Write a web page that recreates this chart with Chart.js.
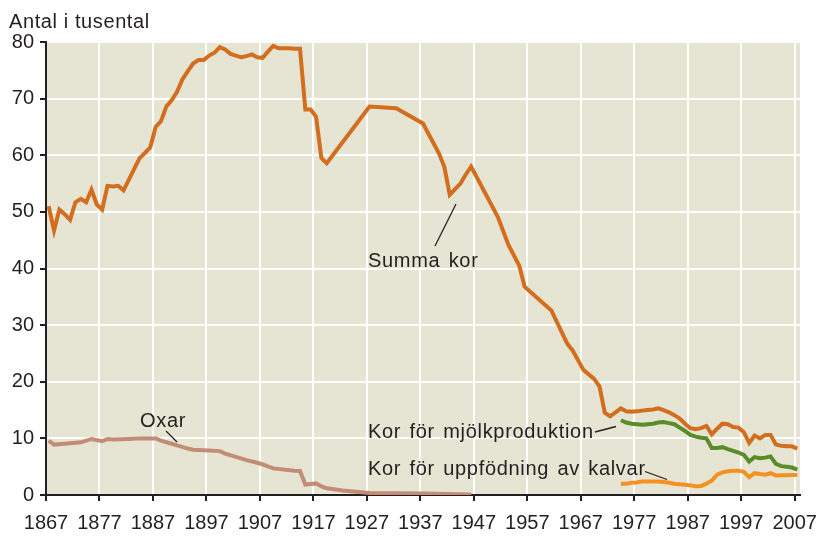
<!DOCTYPE html>
<html><head><meta charset="utf-8">
<script src="https://cdn.jsdelivr.net/npm/chart.js@4.4.1/dist/chart.umd.min.js"></script>
<style>html,body{margin:0;padding:0;background:#fff}#wrap{width:818px;height:537px;position:relative}</style>
</head><body><div id="wrap"><canvas id="c" width="818" height="537"></canvas></div>
<script>
const yAxisTitle = "Antal i tusental";
const xTickYears = [1867,1877,1887,1897,1907,1917,1927,1937,1947,1957,1967,1977,1987,1997,2007];
const yTickValues = [0,10,20,30,40,50,60,70,80];

const summaLabel = "Summa kor";
const summaYears = [1867,1868,1869,1870,1871,1872,1873,1874,1875,1876,1877,1878,1879,1880,1881,1882,1883,1884,1885,1886,
  1887,1888,1889,1890,1891,1892,1893,1894,1895,1896,1897,1898,1899,1900,1901,1902,1903,1904,1905,1906,
  1907,1908,1909,1910,1911,1912,1913,1914,1915,1916,1917,1918,1919,1927,1932,1937,1940,1941,1942,1943,
  1944,1945,1946,1951,1953,1955,1956,1961,1964,1965,1967,1969,1970,1971,1972,1973,1974,1975,1976,1977,
  1978,1979,1980,1981,1982,1983,1984,1985,1986,1987,1988,1989,1990,1991,1992,1993,1994,1995,1996,1997,
  1998,1999,2000,2001,2002,2003,2004,2005,2006,2007];
const summaValues = [51.0,46.7,50.4,49.6,48.6,51.7,52.3,51.7,53.9,51.3,50.4,54.6,54.5,54.6,53.8,55.7,57.6,59.5,60.4,61.4,
  65.0,66.0,68.6,69.7,71.2,73.4,74.8,76.2,76.8,76.8,77.6,78.1,79.1,78.7,77.9,77.6,77.3,77.5,77.8,77.3,
  77.2,78.3,79.3,78.9,78.9,78.9,78.8,78.8,68.1,68.1,66.8,59.5,58.6,68.6,68.3,65.6,60.3,57.9,53.0,54.0,
  55.0,56.6,58.0,49.1,44.1,40.5,36.8,32.6,26.7,25.5,22.1,20.5,19.2,14.5,13.9,14.6,15.3,14.8,14.7,14.8,
  14.9,15.0,15.1,15.3,15.0,14.6,14.1,13.5,12.6,11.8,11.6,11.8,12.2,10.7,11.7,12.6,12.5,12.0,11.9,11.1,
  9.2,10.5,10.0,10.6,10.6,8.9,8.7,8.6,8.6,8.2];

const mjolkLabel = "Kor för mjölkproduktion";
const mjolkYears = [1974,1975,1976,1977,1978,1979,1980,1981,1982,1983,1984,1985,1986,1987,1988,1989,1990,1991,1992,1993,
  1994,1995,1996,1997,1998,1999,2000,2001,2002,2003,2004,2005,2006,2007];
const mjolkValues = [13.2,12.8,12.6,12.5,12.4,12.5,12.6,12.8,12.9,12.7,12.5,11.9,11.3,10.6,10.3,10.1,10.0,8.3,8.3,8.45,
  8.1,7.8,7.5,7.1,5.9,6.7,6.5,6.6,6.8,5.5,5.1,5.0,4.85,4.5];

const kalvarLabel = "Kor för uppfödning av kalvar";
const kalvarYears = mjolkYears;
const kalvarValues = [2.0,2.0,2.15,2.2,2.4,2.4,2.4,2.4,2.3,2.15,2.0,1.9,1.8,1.7,1.55,1.6,2.0,2.55,3.6,4.0,
  4.2,4.3,4.3,4.1,3.15,3.85,3.7,3.6,3.85,3.45,3.5,3.5,3.55,3.55];

const oxarLabel = "Oxar";
const oxarYears = [1867,1868,1870,1873,1875,1877,1878,1879,1882,1884,1887,1888,1890,1891,1893,1894,1896,1899,1900,1904,
  1906,1907,1909,1913,1914,1915,1916,1917,1918,1919,1922,1927,1937,1946];
const oxarValues = [9.6,8.9,9.05,9.3,9.9,9.5,9.9,9.8,9.9,10.0,10.0,9.6,9.05,8.75,8.2,8.0,7.9,7.75,7.3,6.15,
  5.7,5.4,4.7,4.3,4.25,1.85,1.95,2.05,1.5,1.2,0.8,0.35,0.25,0.1];

const FONT = "'Liberation Sans', Arial, Helvetica, sans-serif";
const INK = '#231f20';
const toPts = (ys, vs) => ys.map((y, i) => ({ x: y + 0.5, y: vs[i] }));

const bgPlugin = {
  id: 'bg',
  beforeDraw(chart) {
    const { ctx, chartArea: a } = chart;
    ctx.save();
    ctx.fillStyle = '#e6e4d3';
    ctx.fillRect(a.left, a.top, a.right - a.left, a.bottom - a.top);
    ctx.restore();
  }
};

const textPlugin = {
  id: 'texts',
  afterDraw(chart) {
    const { ctx } = chart;
    ctx.save();
    ctx.fillStyle = INK;
    ctx.font = '20px ' + FONT;
    ctx.textBaseline = 'alphabetic';
    ctx.textAlign = 'left';
    ctx.letterSpacing = '0.6px';
    ctx.fillText(yAxisTitle, 9, 28);
    ctx.letterSpacing = '0.7px';
    ctx.wordSpacing = '2px';
    ctx.fillText(summaLabel, 368, 267);
    ctx.fillText(oxarLabel, 140, 427);
    ctx.fillText(mjolkLabel, 368, 438);
    ctx.fillText(kalvarLabel, 368, 475);
    ctx.letterSpacing = '0px';
    ctx.wordSpacing = '0px';
    ctx.strokeStyle = INK;
    ctx.lineWidth = 1.3;
    const seg = (x1, y1, x2, y2) => { ctx.beginPath(); ctx.moveTo(x1, y1); ctx.lineTo(x2, y2); ctx.stroke(); };
    seg(456, 204, 435, 246);
    seg(166, 431, 177, 442);
    seg(595, 432, 616, 426.5);
    seg(645, 471.5, 667, 479.5);
    ctx.restore();
  }
};

const ds = (label, ys, vs, color) => ({
  label, data: toPts(ys, vs), borderColor: color, backgroundColor: color,
  borderWidth: 4, pointRadius: 0, tension: 0, fill: false, borderJoinStyle: 'miter', borderCapStyle: 'butt'
});

new Chart(document.getElementById('c'), {
  type: 'line',
  data: {
    datasets: [
      ds(oxarLabel, oxarYears, oxarValues, '#c38c76'),
      ds(kalvarLabel, kalvarYears, kalvarValues, '#f59123'),
      ds(mjolkLabel, mjolkYears, mjolkValues, '#5a8c28'),
      ds(summaLabel, summaYears, summaValues, '#d36e1e')
    ]
  },
  options: {
    responsive: false,
    animation: false,
    devicePixelRatio: 1,
    layout: { padding: { top: 42, right: 18, left: 0, bottom: 0 } },
    plugins: { legend: { display: false }, tooltip: { enabled: false } },
    scales: {
      x: {
        type: 'linear', min: 1867, max: 2008,
        afterBuildTicks: s => { s.ticks = xTickYears.map(v => ({ value: v })); },
        afterFit: s => { s.height = 42; s.paddingLeft = 0; s.paddingRight = 0; },
        ticks: { autoSkip: false, maxRotation: 0, padding: 10, color: INK, font: { family: FONT, size: 20 }, callback: v => String(v) },
        grid: { color: '#ffffff', lineWidth: 2, tickColor: INK, tickLength: 6, tickWidth: 2 },
        border: { color: INK, width: 2 }
      },
      y: {
        min: 0, max: 80,
        afterBuildTicks: s => { s.ticks = yTickValues.map(v => ({ value: v })); },
        afterFit: s => { s.width = 46; },
        ticks: { padding: 6, color: INK, font: { family: FONT, size: 20 } },
        grid: { color: '#ffffff', lineWidth: 2, tickColor: INK, tickLength: 6, tickWidth: 2 },
        border: { color: INK, width: 2 }
      }
    }
  },
  plugins: [bgPlugin, textPlugin]
});
</script></body></html>
